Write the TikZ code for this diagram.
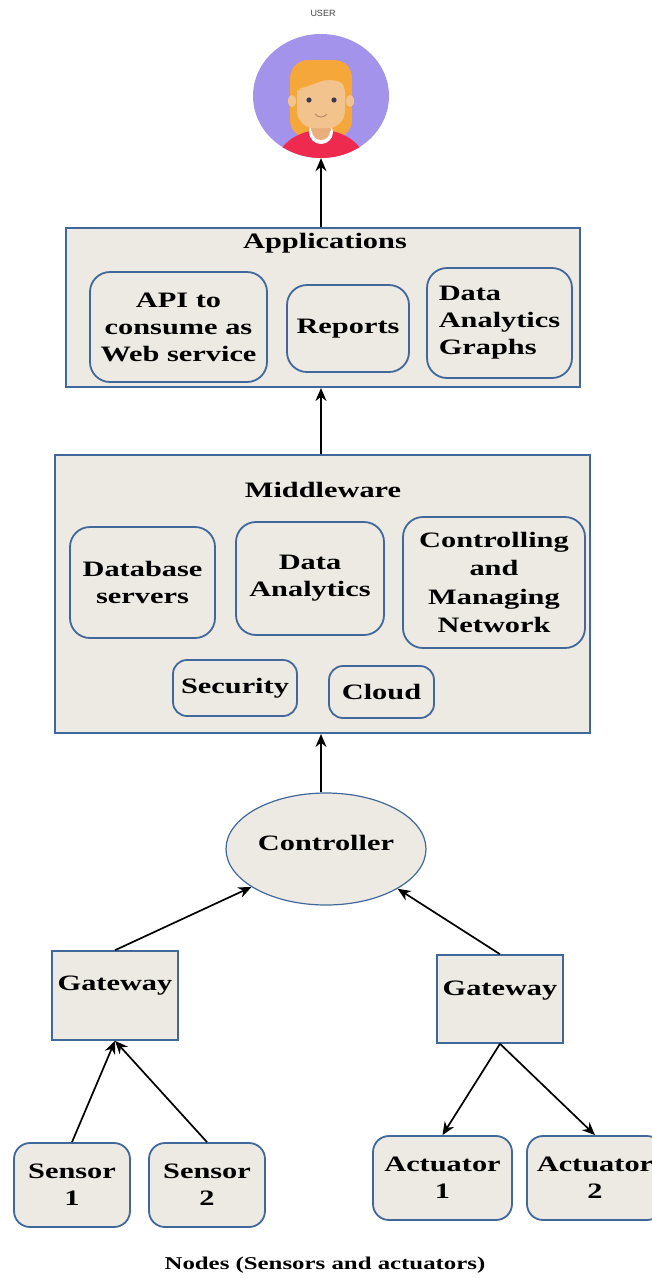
\documentclass[tikz,border=0pt]{standalone}
\usepackage{fontspec}
\setmainfont{Liberation Serif}[FakeStretch=1.38]
\newfontfamily\usrfont{Liberation Sans}
\usetikzlibrary{arrows.meta,shapes.geometric}
\definecolor{boxfill}{HTML}{ECEAE2}
\definecolor{boxline}{HTML}{41689A}
\definecolor{avbg}{HTML}{A393EA}
\definecolor{hair}{HTML}{F6A73A}
\definecolor{skin}{HTML}{F3C38E}
\definecolor{neck}{HTML}{E9AE7C}
\definecolor{shirt}{HTML}{EE2A4F}
\definecolor{eye}{HTML}{3A3A55}
\begin{document}
\begin{tikzpicture}[x=1pt,y=-1pt,
  every node/.style={font=\fontsize{22}{27}\selectfont\bfseries, inner sep=0pt},
  layerbox/.style={draw=boxline, line width=2pt, fill=boxfill, rectangle},
  itembox/.style={draw=boxline, line width=1.8pt, fill=boxfill, rounded corners=20pt, align=center},
  smallbox/.style={draw=boxline, line width=1.8pt, fill=boxfill, rounded corners=14pt, align=center},
  gatebox/.style={draw=boxline, line width=1.6pt, fill=boxfill, rectangle, minimum width=126pt, minimum height=89pt},
  nodebox/.style={draw=boxline, line width=1.8pt, fill=boxfill, rounded corners=16pt, align=center, minimum width=116pt, minimum height=84pt},
  arrow/.style={line width=1.7pt, -{Stealth[length=13pt,width=11pt]}}
]
\useasboundingbox (0,0) rectangle (652,1278);
\clip (0,0) rectangle (652,1278);

% user avatar
\node[font=\usrfont\fontsize{9}{10}\selectfont, text=black!75] (usrlabel) at (323,13) {USER};
\node[ellipse, minimum width=136pt, minimum height=124pt, fill=avbg] (user) at (321,96) {};
\begin{scope}
  \clip (321,96) ellipse [x radius=68pt, y radius=62pt];
  \fill[hair, rounded corners=18pt] (290,60) rectangle (352,138);
  \fill[skin] (292,101) ellipse [x radius=4pt, y radius=6pt];
  \fill[skin] (350,101) ellipse [x radius=4pt, y radius=6pt];
  \fill[shirt] (321,168) ellipse [x radius=46pt, y radius=38pt];
  \fill[white] (321,132) circle [radius=12pt];
  \fill[neck] (311,115) rectangle (331,131);
  \fill[neck] (321,131) circle [radius=9pt];
  \fill[skin, rounded corners=17pt] (297,76) rectangle (345,128);
  \fill[hair, rounded corners=10pt] (293,62) -- (350,62) -- (350,86) -- (330,78) -- (297,90) -- (293,90) -- cycle;
  \fill[eye] (309,100) circle [radius=2.6pt];
  \fill[eye] (334,100) circle [radius=2.6pt];
  \draw[neck!80!black, line width=1pt] (315,114) .. controls (318,118) and (324,118) .. (327,114);
\end{scope}

% applications layer
\node[layerbox, minimum width=514pt, minimum height=159pt] (apps) at (323,307.5) {};
\node (appstitle) at (325,243) {Applications};
\node[itembox, minimum width=177pt, minimum height=110pt] (api) at (178.5,327) {API to\\consume as\\Web service};
\node[itembox, minimum width=122pt, minimum height=87pt] (reports) at (348,328.5) {Reports};
\node[itembox, minimum width=145pt, minimum height=110pt, align=left] (graphs) at (499.5,323) {Data\\Analytics\\Graphs};

% middleware layer
\node[layerbox, minimum width=535pt, minimum height=278pt] (mw) at (322.5,594) {};
\node (mwtitle) at (323,490) {Middleware};
\node[itembox, minimum width=145pt, minimum height=111pt] (db) at (142.5,582.5) {Database\\servers};
\node[itembox, minimum width=148pt, minimum height=113pt] (da) at (310,578.5) {Data\\Analytics};
\node[itembox, minimum width=182pt, minimum height=131pt, font=\fontsize{22}{28.3}\selectfont\bfseries] (cmn) at (494,582.5) {Controlling\\and\\Managing\\Network};
\node[smallbox, minimum width=124pt, minimum height=56pt] (sec) at (235,688) {Security};
\node[smallbox, minimum width=105pt, minimum height=52pt] (cloud) at (381.5,692) {Cloud};

% controller and gateways
\node[ellipse, draw=boxline, line width=1.2pt, fill=boxfill, minimum width=200pt, minimum height=112pt] (ctrl) at (326,849) {};
\node (ctrltext) at (326,843) {Controller};
\node[gatebox] (gwl) at (115,995.5) {};
\node (gwltext) at (115,986) {Gateway};
\node[gatebox, minimum height=88pt] (gwr) at (500,999) {};
\node (gwrtext) at (500,991) {Gateway};

% sensors and actuators
\node[nodebox] (s1) at (72,1185) {Sensor\\1};
\node[nodebox] (s2) at (207,1185) {Sensor\\2};
\node[nodebox, minimum width=139pt] (a1) at (442.5,1178) {Actuator\\1};
\node[nodebox, minimum width=136pt] (a2) at (595,1178) {Actuator\\2};
\node[font=\fontsize{18}{22}\selectfont\bfseries] (caption) at (325,1265) {Nodes (Sensors and actuators)};

% connectors
\draw[arrow] (apps.north -| user.south) -- (user.south);
\draw[arrow] (mw.north -| user.south) -- (apps.south -| user.south);
\draw[arrow] (ctrl.north -| user.south) -- (mw.south -| user.south);
\draw[arrow] (gwl.north) -- (ctrl.207);
\draw[arrow] (gwr.north) -- (ctrl.331);
\draw[arrow] (s1.north) -- (gwl.south);
\draw[arrow] (s2.north) -- (gwl.south);
\draw[arrow] (gwr.south) -- (a1.north);
\draw[arrow] (gwr.south) -- (a2.north);
\end{tikzpicture}
\end{document}
